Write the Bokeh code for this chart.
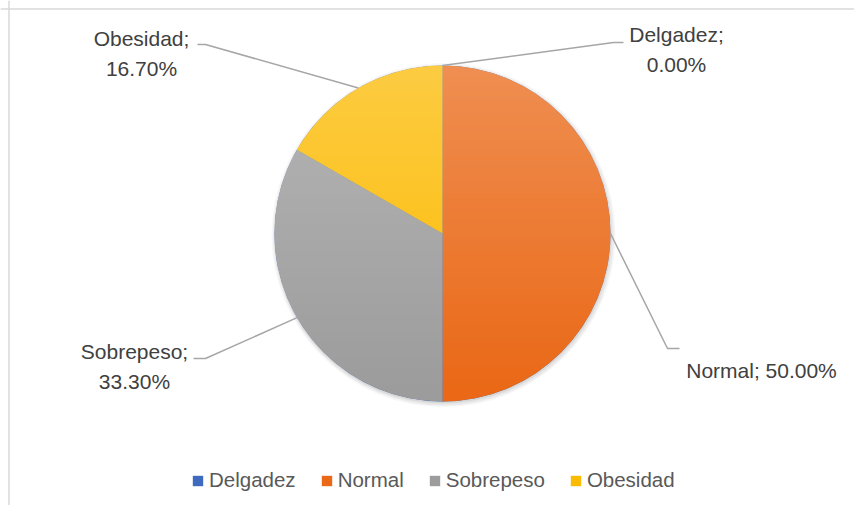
import math
import numpy as np
from bokeh.plotting import figure
from bokeh.models import Legend, LegendItem, Span
from bokeh.core.properties import value
from bokeh.embed import file_html
from bokeh.resources import INLINE

# ---- data ----
categories = ["Delgadez", "Normal", "Sobrepeso", "Obesidad"]
percents = [0.00, 50.00, 33.30, 16.70]
colors = ["#3E6BBF", "#EA6816", "#9C9C9C", "#FCBA00"]

# ---- layout ----
W, H = 854, 505
cx, cy, R = 442, 272, 168
FONT = "Liberation Sans"

p = figure(width=W, height=H, x_range=(0, W), y_range=(0, H),
           output_backend="svg", toolbar_location=None,
           min_border=0, outline_line_color=None)
p.axis.visible = False
p.grid.visible = False
p.background_fill_color = "white"
p.border_fill_color = "white"

# chart frame (left & top edges visible in the reference)
p.add_layout(Span(location=8.5, dimension="height", line_color="#D9D9D9", line_width=1.5))
p.add_layout(Span(location=H - 8.5, dimension="width", line_color="#D9D9D9", line_width=1.5))

total = sum(percents)
starts, ends, mids = [], [], []
cum = 0.0
for v in percents:
    a0 = math.pi / 2 - 2 * math.pi * cum / total
    cum += v
    a1 = math.pi / 2 - 2 * math.pi * cum / total
    starts.append(a0)
    ends.append(a1)
    mids.append((a0 + a1) / 2)

# soft shadow / glow around the pie
p.circle(x=[cx + 1], y=[cy - 1.5], radius=R + 4, fill_color="#000000", fill_alpha=0.035, line_color=None)
p.circle(x=[cx + 1], y=[cy - 1.5], radius=R + 2.5, fill_color="#000000", fill_alpha=0.05, line_color=None)
p.circle(x=[cx + 0.5], y=[cy - 1], radius=R + 1, fill_color="#000000", fill_alpha=0.07, line_color=None)

renderers = []
for i, c in enumerate(categories):
    r = p.wedge(x=cx, y=cy, radius=R, start_angle=starts[i], end_angle=ends[i],
                direction="clock", fill_color=colors[i], line_color=None)
    renderers.append(r)

# vertical light gradient over the pie (white on white outside the pie is invisible)
n = 64
alpha = np.linspace(0.0, 0.26, n)
img = np.zeros((n, 1), dtype=np.uint32)
view = img.view(dtype=np.uint8).reshape((n, 1, 4))
view[:, 0, 0] = 255
view[:, 0, 1] = 255
view[:, 0, 2] = 255
view[:, 0, 3] = (alpha * 255).astype(np.uint8)
p.image_rgba(image=[img], x=cx - R - 6, y=cy - R, dw=2 * R + 12, dh=2 * R + 6)

# leader lines: from slice edge midpoint to label elbow
elbows = {
    "Delgadez": [(613, 463), (623, 463)],
    "Normal": [(667, 157), (679, 157)],
    "Sobrepeso": [(205, 147), (193, 147)],
    "Obesidad": [(205, 461), (197, 461)],
}
for i, c in enumerate(categories):
    ex = cx + R * math.cos(mids[i])
    ey = cy + R * math.sin(mids[i])
    pts = [(ex, ey)] + elbows[c]
    p.line(x=[q[0] for q in pts], y=[q[1] for q in pts], line_color="#A6A6A6", line_width=1.5)

# data labels
label_pos = {
    "Delgadez": (676, 456),
    "Normal": (761, 135),
    "Sobrepeso": (134, 139),
    "Obesidad": (141, 452),
}
lx, ly, lt = [], [], []
for c, v in zip(categories, percents):
    if c == "Normal":
        t = f"{c}; {v:.2f}%"
    else:
        t = f"{c};\n{v:.2f}%"
    lx.append(label_pos[c][0])
    ly.append(label_pos[c][1])
    lt.append(t)
p.text(x=lx, y=ly, text=lt, text_font=value(FONT), text_font_size="21px",
       text_color="#404040", text_align="center", text_baseline="middle",
       text_line_height=1.33)

legend = Legend(items=[LegendItem(label=c, renderers=[r]) for c, r in zip(categories, renderers)],
                orientation="horizontal", location=(191, 13),
                glyph_width=13, glyph_height=13, label_standoff=5, spacing=24,
                padding=0, margin=0, border_line_color=None, background_fill_alpha=0,
                label_text_font=FONT, label_text_font_size="20.5px", label_text_color="#595959")
p.add_layout(legend)

open("out.html", "w").write(file_html(p, INLINE))
